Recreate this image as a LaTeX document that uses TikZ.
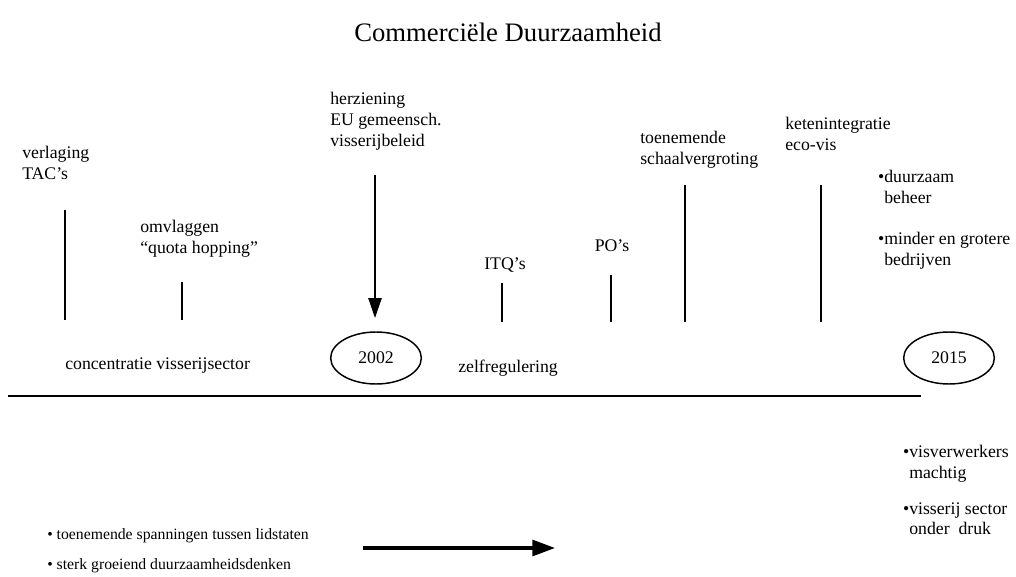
\documentclass[tikz,border=0pt]{standalone}
\usepackage{fontspec}
\setmainfont{Liberation Serif}
\usetikzlibrary{shapes.geometric,arrows.meta}

\tikzset{
    event/.style={anchor=north west, inner sep=0pt, align=left, font=\fontsize{13.3}{15.6}\selectfont},
    single/.style={inner sep=0pt, font=\fontsize{13.3}{15.6}\selectfont},
    year/.style={draw, ellipse, line width=1.1pt, minimum width=68pt, minimum height=39pt, inner sep=0pt, font=\fontsize{13.3}{15.6}\selectfont},
    tick/.style={line width=1.1pt},
}

\begin{document}
\begin{tikzpicture}[x=0.75pt, y=-0.75pt]
    \useasboundingbox (0,0) rectangle (1016,577);

    % Title
    \node[inner sep=0pt, anchor=base, font=\fontsize{20}{24}\selectfont] (title) at (508,42) {Commerciële Duurzaamheid};

    % Time line
    \coordinate (axisL) at (8,396);
    \coordinate (axisR) at (921,396);
    \draw[line width=1.1pt] (axisL) -- (axisR);

    % Years
    \node[year] (y2002) at (376,358) {2002};
    \node[year] (y2015) at (949,358) {2015};

    % Events above the line
    \node[event] (tac) at (22,146) {verlaging\\TAC’s};
    \coordinate (tacT) at (65,210);
    \coordinate (tacB) at (65,320);
    \draw[tick] (tacT) -- (tacB);

    \node[event] (quota) at (140,220) {omvlaggen\\“quota hopping”};
    \coordinate (quotaT) at (182,282);
    \coordinate (quotaB) at (182,320);
    \draw[tick] (quotaT) -- (quotaB);

    \node[event] (eu) at (330,92) {herziening\\EU gemeensch.\\visserijbeleid};
    \coordinate (euT) at (375,175);
    \coordinate (euB) at (375,318);
    \draw[tick, -{Triangle[length=15pt, width=10pt]}] (euT) -- (euB);

    \node[single, anchor=base] (itq) at (505,269) {ITQ’s};
    \coordinate (itqT) at (502,283);
    \coordinate (itqB) at (502,322);
    \draw[tick] (itqT) -- (itqB);

    \node[single, anchor=base] (po) at (612,252) {PO’s};
    \coordinate (poT) at (611,275);
    \coordinate (poB) at (611,322);
    \draw[tick] (poT) -- (poB);

    \node[event] (schaal) at (640,131) {toenemende\\schaalvergroting};
    \coordinate (schaalT) at (685,185);
    \coordinate (schaalB) at (685,322);
    \draw[tick] (schaalT) -- (schaalB);

    \node[event] (keten) at (785,117) {ketenintegratie\\eco-vis};
    \coordinate (ketenT) at (821,185);
    \coordinate (ketenB) at (821,322);
    \draw[tick] (ketenT) -- (ketenB);

    % Outcome 2015
    \node[event] (beheer) at (884,170) {\llap{•}duurzaam\\beheer};
    \node[event] (bedrijven) at (884,232) {\llap{•}minder en grotere\\bedrijven};

    % Labels along the line
    \node[single, anchor=base west] (concentratie) at (65,369) {concentratie visserijsector};
    \node[single, anchor=base west] (zelfreg) at (458,372) {zelfregulering};

    % Below the line
    \node[event] (verwerkers) at (909,445) {\llap{•}visverwerkers\\machtig};
    \node[event] (druk) at (909,502) {\llap{•}visserij sector\\onder\ \ druk};

    \node[inner sep=0pt, anchor=base west, font=\fontsize{11.8}{14}\selectfont] (spanning) at (47,539) {•\ toenemende spanningen tussen lidstaten};
    \node[inner sep=0pt, anchor=base west, font=\fontsize{11.8}{14}\selectfont] (denken) at (47,569) {•\ sterk groeiend duurzaamheidsdenken};

    \coordinate (trendL) at (363,548);
    \coordinate (trendR) at (555,548);
    \draw[line width=2.3pt, -{Triangle[length=17pt, width=12pt]}] (trendL) -- (trendR);
\end{tikzpicture}
\end{document}
